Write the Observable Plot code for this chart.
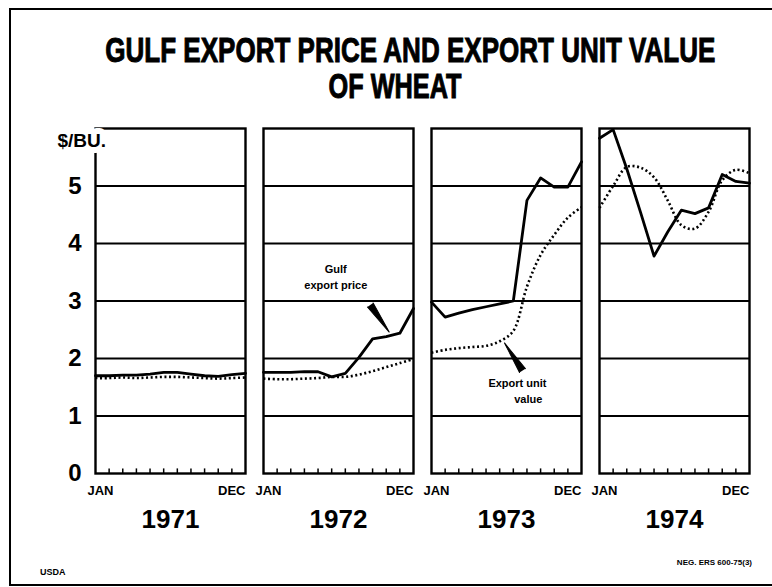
<!DOCTYPE html>
<html>
<head>
<meta charset="utf-8">
<script src="https://cdn.jsdelivr.net/npm/d3@7"></script>
<script src="https://cdn.jsdelivr.net/npm/@observablehq/plot@0.6"></script>
<style>
html, body { margin: 0; padding: 0; background: #fff; }
#page { position: relative; width: 772px; height: 587px; overflow: hidden; font-family: "Liberation Sans", Arial, sans-serif; color: #000; }
#border { position: absolute; z-index: 10; left: 9px; top: 8px; width: 800px; height: 574px; border-top: 2px solid #000; border-left: 2px solid #000; border-bottom: 2px solid #000; pointer-events: none; background: transparent; }
#title { position: relative; height: 110px; }
.tl { position: absolute; left: 0; width: 790px; text-align: center; font-weight: bold; font-size: 35px; line-height: 28px; white-space: nowrap; -webkit-text-stroke: 1px #000; }
.tl span { display: inline-block; transform-origin: center; }
#chart { position: relative; height: 440px; }
#chart svg { overflow: visible; }
#footer { position: relative; height: 37px; font-weight: bold; }
#usda { position: absolute; left: 40px; top: 17px; font-size: 9px; }
#neg { position: absolute; right: 20px; top: 8px; font-size: 8px; }
</style>
</head>
<body>
<div id="page">
  <div id="border"></div>
  <div id="title">
    <div class="tl" id="t1" style="top:36px"><span>GULF EXPORT PRICE AND EXPORT UNIT VALUE</span></div>
    <div class="tl" id="t2" style="top:72px"><span>OF WHEAT</span></div>
  </div>
  <div id="chart"></div>
  <div id="footer">
    <div id="usda">USDA</div>
    <div id="neg">NEG. ERS 600-75(3)</div>
  </div>
</div>
<script>
// ---- data ----
const years = [1971, 1972, 1973, 1974];
const months = [1, 2, 3, 4, 5, 6, 7, 8, 9, 10, 11, 12];

// Gulf export price ($/bu.), solid line
const gulf1971 = [1.70, 1.70, 1.71, 1.71, 1.73, 1.76, 1.76, 1.73, 1.70, 1.69, 1.72, 1.74];
const gulf1972 = [1.76, 1.76, 1.76, 1.77, 1.77, 1.68, 1.74, 2.02, 2.34, 2.38, 2.44, 2.87];
const gulf1973 = [2.98, 2.72, 2.79, 2.85, 2.90, 2.95, 3.00, 4.75, 5.14, 4.98, 4.98, 5.42];
const gulf1974 = [5.83, 5.98, 5.30, 4.55, 3.78, 4.20, 4.58, 4.52, 4.62, 5.20, 5.08, 5.05];

// Export unit value ($/bu.), dotted line
const unit1971 = [1.66, 1.66, 1.67, 1.66, 1.67, 1.68, 1.68, 1.67, 1.66, 1.65, 1.66, 1.67];
const unit1972 = [1.65, 1.64, 1.64, 1.65, 1.66, 1.68, 1.68, 1.72, 1.78, 1.85, 1.92, 1.99];
const unit1973 = [2.10, 2.15, 2.18, 2.20, 2.22, 2.30, 2.48, 3.25, 3.80, 4.15, 4.45, 4.63];
const unit1974 = [4.62, 5.00, 5.33, 5.32, 5.15, 4.75, 4.32, 4.26, 4.55, 5.10, 5.28, 5.22];

const yTicks = [0, 1, 2, 3, 4, 5];
const gridValues = [1, 2, 3, 4, 5];
const tickMonths = [2, 3, 4, 5, 6, 7, 8, 9, 10, 11];
const monthLabelsStart = [{month: 1, label: "JAN"}];
const monthLabelsEnd = [{month: 12, label: "DEC"}];
const unitLabel = "$/BU.";

const annotations = [
  {year: 1972, month: 6.3, value: 3.54, text: "Gulf"},
  {year: 1972, month: 6.3, value: 3.27, text: "export price"},
  {year: 1973, month: 7.3, value: 1.57, text: "Export unit"},
  {year: 1973, month: 8.1, value: 1.28, text: "value"}
];
const pointers = [
  {year: 1972, month: 8.83, value: 2.93, len: 33, angle: 145},
  {year: 1973, month: 7.67, value: 1.79, len: 33, angle: 327}
];

// ---- build tables ----
const gulfByYear = [gulf1971, gulf1972, gulf1973, gulf1974];
const unitByYear = [unit1971, unit1972, unit1973, unit1974];
const gulfRows = [], unitRows = [];
years.forEach((yr, i) => {
  months.forEach((m, j) => {
    gulfRows.push({year: yr, month: m, value: gulfByYear[i][j]});
    unitRows.push({year: yr, month: m, value: unitByYear[i][j]});
  });
});

const chart = Plot.plot({
  width: 772,
  height: 440,
  marginTop: 18,
  marginBottom: 77,
  marginLeft: 95,
  marginRight: 22,
  fx: {domain: years, paddingInner: 0.107, paddingOuter: 0, axis: null},
  x: {domain: [1, 12], axis: null},
  y: {domain: [0, 6], axis: null},
  length: {type: "identity"},
  style: {fontFamily: "Liberation Sans, Arial, sans-serif", color: "black", background: "transparent", overflow: "visible"},
  marks: [
    Plot.ruleY(gridValues, {y: d => d, stroke: "black", strokeWidth: 1.8}),
    Plot.ruleX(tickMonths, {x: d => d, y1: 0, y2: 0.08, stroke: "black", strokeWidth: 1.5}),
    Plot.frame({stroke: "black", strokeWidth: 2.4}),
    Plot.line(unitRows, {fx: "year", x: "month", y: "value", stroke: "black", strokeWidth: 2.6, strokeDasharray: "2,2.6", strokeLinecap: "butt", curve: "catmull-rom"}),
    Plot.line(gulfRows, {fx: "year", x: "month", y: "value", stroke: "black", strokeWidth: 2.8, strokeLinejoin: "round"}),
    Plot.vector(pointers, {fx: "year", x: "month", y: "value", length: "len", rotate: "angle", shape: "spike", anchor: "start", r: 3.5, fill: "black", stroke: "black", strokeWidth: 1}),
    Plot.text(annotations, {fx: "year", x: "month", y: "value", text: "text", fontSize: 11, fontWeight: "bold", fill: "black"}),
    Plot.text(yTicks, {fx: () => 1971, y: d => d, text: d => String(d), frameAnchor: "left", dx: -14, textAnchor: "end", fontSize: 24, fontWeight: "bold", fill: "black"}),
    Plot.text([unitLabel], {fx: () => 1971, text: d => d, frameAnchor: "top-left", dx: -38, dy: 12, textAnchor: "start", lineAnchor: "middle", fontSize: 19, fontWeight: "bold", fill: "black", stroke: "white", strokeWidth: 12, paintOrder: "stroke"}),
    Plot.text(monthLabelsStart, {x: "month", text: "label", frameAnchor: "bottom", dy: 17, dx: -8, textAnchor: "start", lineAnchor: "middle", fontSize: 13, fontWeight: "bold", fill: "black"}),
    Plot.text(monthLabelsEnd, {x: "month", text: "label", frameAnchor: "bottom", dy: 17, textAnchor: "end", lineAnchor: "middle", fontSize: 13, fontWeight: "bold", fill: "black"}),
    Plot.text(years, {fx: d => d, text: d => String(d), frameAnchor: "bottom", dy: 46, lineAnchor: "middle", fontSize: 26, fontWeight: "bold", fill: "black"})
  ]
});
document.getElementById("chart").appendChild(chart);

function fit(id, w) {
  const s = document.querySelector(id + " span");
  const r = s.getBoundingClientRect().width;
  if (r > 0) s.style.transform = "scaleX(" + (w / r) + ")";
}
fit("#t1", 610);
fit("#t2", 133);
</script>
</body>
</html>
